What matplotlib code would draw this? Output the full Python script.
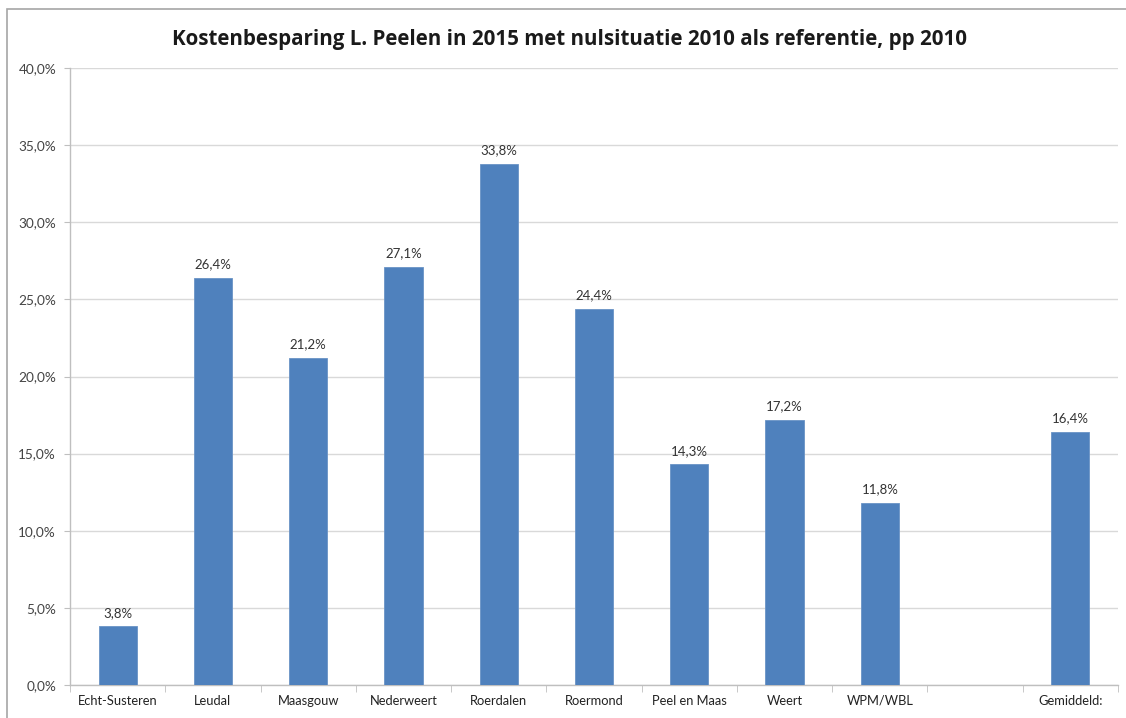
import matplotlib
matplotlib.use("Agg")
import matplotlib.pyplot as plt
from matplotlib.patches import Rectangle
from matplotlib.ticker import FixedLocator, FuncFormatter

categories = ["Echt-Susteren", "Leudal", "Maasgouw", "Nederweert", "Roerdalen",
              "Roermond", "Peel en Maas", "Weert", "WPM/WBL", "", "Gemiddeld:"]
values = [3.8, 26.4, 21.2, 27.1, 33.8, 24.4, 14.3, 17.2, 11.8, None, 16.4]
yticks = [0, 5, 10, 15, 20, 25, 30, 35, 40]
title = "Kostenbesparing L. Peelen in 2015 met nulsituatie 2010 als referentie, pp 2010"

plt.rcParams['font.family'] = ['Lato', 'DejaVu Sans']

W, H = 1126, 718
fig = plt.figure(figsize=(W / 100, H / 100), dpi=100)
ax = fig.add_axes([70 / W, 1 - 685 / H, (1118 - 70) / W, (685 - 68) / H])

bar_color = "#4F81BD"
for i, (c, v) in enumerate(zip(categories, values)):
    if v is None:
        continue
    ax.bar(i, v, width=0.4, color=bar_color, edgecolor="#6A93C6", linewidth=0.6, zorder=3)
    ax.text(i, v + 0.5, f"{v:.1f}%".replace(".", ","), ha="center", va="bottom",
            fontsize=9.5, color="#333333", zorder=4)

ax.set_xlim(-0.5, len(categories) - 0.5)
ax.set_ylim(0, 40)
ax.yaxis.set_major_locator(FixedLocator(yticks))
ax.yaxis.set_major_formatter(FuncFormatter(lambda y, p: f"{y:.1f}%".replace(".", ",")))
ax.grid(axis="y", color="#D9D9D9", linewidth=1.0, zorder=0)

ax.set_xticks(range(len(categories)))
ax.set_xticklabels(categories, fontsize=9.3, color="#222222")
ax.tick_params(axis="x", which="major", length=0, pad=7)
ax.set_xticks([i + 0.5 for i in range(-1, len(categories))], minor=True)
ax.tick_params(axis="x", which="minor", length=5, color="#BFBFBF", direction="out")
ax.tick_params(axis="y", length=4, color="#BFBFBF", labelsize=9.8, labelcolor="#444444", pad=6)

for s in ["top", "right"]:
    ax.spines[s].set_visible(False)
for s in ["left", "bottom"]:
    ax.spines[s].set_color("#BFBFBF")
    ax.spines[s].set_linewidth(1.0)

fig.text(570 / W, 1 - 40 / H, title, ha="center", va="center",
         fontsize=14.8, fontweight="bold", color="#1a1a1a",
         family=["Open Sans", "DejaVu Sans"])

fig.patches.append(Rectangle((7 / W, -0.1), 1.2, 1 - 9 / H + 0.1, transform=fig.transFigure,
                             fill=False, edgecolor="#A6A6A6", linewidth=1.2))

fig.savefig("out.png", dpi=100)
